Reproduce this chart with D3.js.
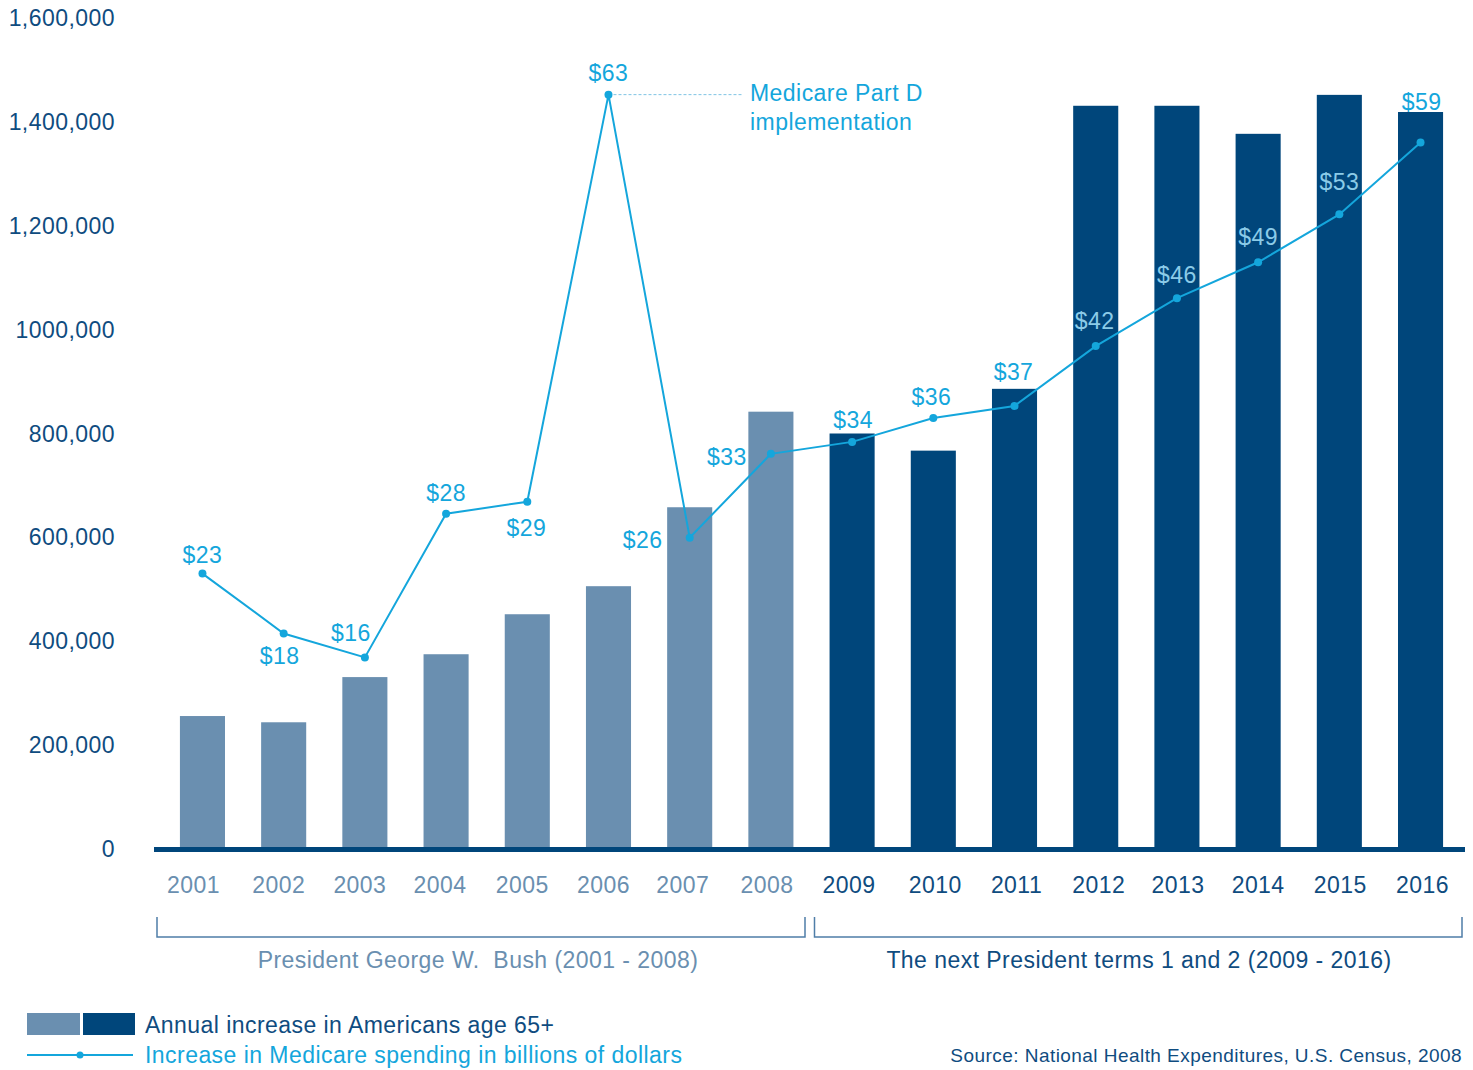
<!DOCTYPE html>
<html>
<head>
<meta charset="utf-8">
<script src="https://cdn.jsdelivr.net/npm/d3@7"></script>
<style>
  body { margin: 0; background: #fff; }
  text { font-family: "Liberation Sans", Arial, Helvetica, sans-serif; letter-spacing: 0.45px; }
</style>
</head>
<body>
<svg id="chart" width="1473" height="1070"></svg>
<script>
// data
var years = ["2001","2002","2003","2004","2005","2006","2007","2008",
             "2009","2010","2011","2012","2013","2014","2015","2016"];
var seniors = [256000, 244000, 331000, 375000, 452000, 506000, 658000, 842000,
               800000, 767000, 886000, 1431000, 1431000, 1377000, 1452000, 1419000];
var spending = [23, 18, 16, 28, 29, 63, 26, 33, 34, 36, 37, 42, 46, 49, 53, 59];
var yTicks = [0, 200000, 400000, 600000, 800000, 1000000, 1200000, 1400000, 1600000];
var yTickLabels = ["0", "200,000", "400,000", "600,000", "800,000", "1000,000",
                   "1,200,000", "1,400,000", "1,600,000"];
var bushYears = years.slice(0, 8);

// label placement around each line point [dx, dy]
var labelPos = [[0,-19],[-4,22],[-14,-24],[0,-21],[-1,26],[0,-22],[-47,2],[-44,3],
                [1,-22],[-2,-21],[-1,-34],[-1,-25],[0,-23],[0,-25],[0,-32],[1,-41]];
// small horizontal nudges of the year labels
var yearDx = [-9, -5, -5, -6, -5, -5, -7, -4, -3, 2, 2, 3, 1, 0, 1, 2];

var light = "#6a8fb0", dark = "#00467b", cyan = "#14a6dc", paleCyan = "#8bcbe8",
    axisText = "#0f4c80";

var svg = d3.select("#chart");

var x = d3.scaleBand()
    .domain(years)
    .range([161.9, 1461.1])
    .paddingInner(0.445)
    .paddingOuter(0.222);

var y = d3.scaleLinear()
    .domain([0, 1600000])
    .range([849, 18]);

// right-hand money scale shares the same pixel range
var y2 = d3.scaleLinear()
    .domain([0, 69.4])
    .range([849, 18]);

function isBush(d) { return bushYears.indexOf(d) >= 0; }

// y tick labels
svg.append("g")
    .selectAll("text")
    .data(yTicks)
    .enter().append("text")
    .attr("x", 115)
    .attr("y", function(d) { return y(d); })
    .attr("dy", "0.35em")
    .attr("text-anchor", "end")
    .attr("fill", axisText)
    .style("font-size", "23px")
    .text(function(d, i) { return yTickLabels[i]; });

// bars
svg.append("g")
    .selectAll("rect")
    .data(years)
    .enter().append("rect")
    .attr("x", function(d) { return x(d); })
    .attr("width", x.bandwidth())
    .attr("y", function(d, i) { return y(seniors[i]); })
    .attr("height", function(d, i) { return 847 - y(seniors[i]); })
    .attr("fill", function(d) { return isBush(d) ? light : dark; });

// baseline
svg.append("rect")
    .attr("x", 154)
    .attr("y", 847)
    .attr("width", 1311)
    .attr("height", 5)
    .attr("fill", dark);

// year labels
svg.append("g")
    .selectAll("text")
    .data(years)
    .enter().append("text")
    .attr("x", function(d, i) { return x(d) + x.bandwidth() / 2 + yearDx[i]; })
    .attr("y", 885)
    .attr("dy", "0.35em")
    .attr("text-anchor", "middle")
    .attr("fill", function(d) { return isBush(d) ? light : axisText; })
    .style("font-size", "23px")
    .text(function(d) { return d; });

// brackets
function bracket(x0, x1, col) {
    svg.append("path")
        .attr("d", "M" + x0 + ",917V937H" + x1 + "V917")
        .attr("fill", "none")
        .attr("stroke", col)
        .attr("stroke-width", 1.5);
}
bracket(157, 805, "#4f7ea8");
bracket(814.5, 1462, "#4f7ea8");

svg.append("text")
    .attr("x", 478).attr("y", 960).attr("dy", "0.35em")
    .attr("text-anchor", "middle")
    .attr("fill", light)
    .style("font-size", "23px")
    .style("white-space", "pre")
    .text("President George W.  Bush (2001 - 2008)");

svg.append("text")
    .attr("x", 1139).attr("y", 960).attr("dy", "0.35em")
    .attr("text-anchor", "middle")
    .attr("fill", axisText)
    .style("font-size", "23px")
    .text("The next President terms 1 and 2 (2009 - 2016)");

// spending line
var cx = function(d, i) { return x(years[i]) + x.bandwidth() / 2; };
var line = d3.line()
    .x(function(d, i) { return cx(d, i); })
    .y(function(d) { return y2(d); });

// annotation leader
var peak = spending.indexOf(d3.max(spending));
svg.append("line")
    .attr("x1", cx(null, peak) + 5).attr("x2", 742)
    .attr("y1", y2(spending[peak])).attr("y2", y2(spending[peak]))
    .attr("stroke", "#7fc4e4")
    .attr("stroke-width", 1)
    .attr("stroke-dasharray", "3,2");

svg.append("path")
    .datum(spending)
    .attr("d", line)
    .attr("fill", "none")
    .attr("stroke", cyan)
    .attr("stroke-width", 2);

svg.append("g")
    .selectAll("circle")
    .data(spending)
    .enter().append("circle")
    .attr("cx", cx)
    .attr("cy", function(d) { return y2(d); })
    .attr("r", 4)
    .attr("fill", cyan);

svg.append("g")
    .selectAll("text")
    .data(spending)
    .enter().append("text")
    .attr("x", function(d, i) { return cx(d, i) + labelPos[i][0]; })
    .attr("y", function(d, i) { return y2(d) + labelPos[i][1]; })
    .attr("dy", "0.35em")
    .attr("text-anchor", "middle")
    .attr("fill", function(d, i) { return (i >= 11 && i <= 14) ? paleCyan : cyan; })
    .style("font-size", "23px")
    .text(function(d) { return "$" + d; });

svg.append("text")
    .attr("x", 750).attr("y", 93).attr("dy", "0.35em")
    .attr("fill", cyan)
    .style("font-size", "23px")
    .text("Medicare Part D");
svg.append("text")
    .attr("x", 750).attr("y", 122).attr("dy", "0.35em")
    .attr("fill", cyan)
    .style("font-size", "23px")
    .text("implementation");

// legend
svg.append("rect").attr("x", 27).attr("y", 1013).attr("width", 53).attr("height", 22).attr("fill", light);
svg.append("rect").attr("x", 83).attr("y", 1013).attr("width", 52).attr("height", 22).attr("fill", dark);
svg.append("text")
    .attr("x", 145).attr("y", 1025).attr("dy", "0.35em")
    .attr("fill", axisText)
    .style("font-size", "23px")
    .text("Annual increase in Americans age 65+");

svg.append("line")
    .attr("x1", 27).attr("x2", 133).attr("y1", 1055).attr("y2", 1055)
    .attr("stroke", cyan).attr("stroke-width", 2);
svg.append("circle").attr("cx", 80).attr("cy", 1055).attr("r", 3.5).attr("fill", cyan);
svg.append("text")
    .attr("x", 145).attr("y", 1055).attr("dy", "0.35em")
    .attr("fill", cyan)
    .style("font-size", "23px")
    .text("Increase in Medicare spending in billions of dollars");

svg.append("text")
    .attr("x", 1462).attr("y", 1055).attr("dy", "0.35em")
    .attr("text-anchor", "end")
    .attr("fill", axisText)
    .style("font-size", "19px")
    .text("Source: National Health Expenditures, U.S. Census, 2008");
</script>
</body>
</html>
